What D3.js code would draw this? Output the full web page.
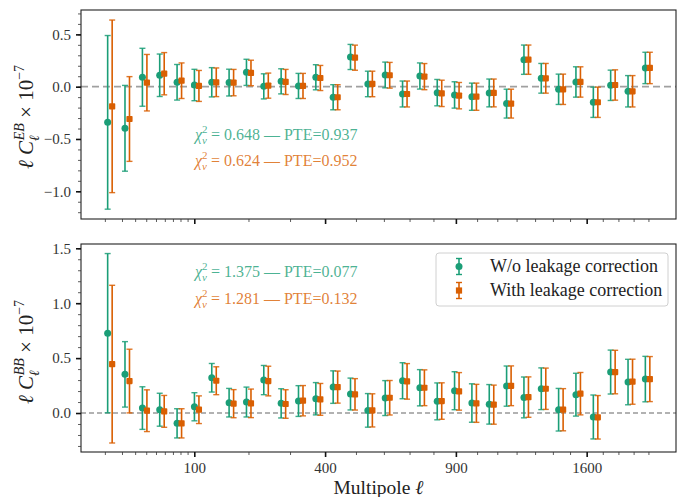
<!DOCTYPE html>
<html><head><meta charset="utf-8">
<script src="https://cdn.jsdelivr.net/npm/d3@7/dist/d3.min.js"></script>
<style>body{margin:0;background:#fff}svg text{font-family:'Liberation Serif','Times New Roman',Times,'DejaVu Serif',serif}</style>
</head><body><svg id="c" width="686" height="497"></svg>
<script>
// Multipole bin centres
const ell = [11.4, 22.1, 36.4, 54.1, 75.4, 100.2, 128.5, 160.3, 195.7, 234.5, 276.9, 322.8, 372.2, 425.1, 481.5, 541.5, 605.0, 672.0, 742.5, 816.5, 894.0, 975.0, 1059.6, 1147.7, 1239.3, 1334.4, 1433.0, 1535.0, 1641.0, 1750.0, 1863.0, 1979.0];
// EB, without leakage correction
const ebNo = [-0.341, -0.398, 0.09, 0.109, 0.042, 0.016, 0.042, 0.039, 0.137, 0.003, 0.051, 0.007, 0.09, -0.101, 0.284, 0.026, 0.112, -0.07, 0.102, -0.057, -0.079, -0.096, -0.06, -0.162, 0.258, 0.08, -0.025, 0.045, -0.149, 0.013, -0.044, 0.179];
const ebNoErr = [0.83, 0.41, 0.277, 0.203, 0.17, 0.15, 0.14, 0.128, 0.125, 0.12, 0.12, 0.12, 0.12, 0.12, 0.12, 0.122, 0.123, 0.124, 0.125, 0.126, 0.126, 0.13, 0.133, 0.138, 0.14, 0.142, 0.145, 0.145, 0.145, 0.145, 0.15, 0.15];
// EB, with leakage correction
const ebCor = [-0.188, -0.309, 0.038, 0.124, 0.057, 0.007, 0.042, 0.039, 0.131, 0.01, 0.045, 0.007, 0.083, -0.101, 0.277, 0.026, 0.109, -0.07, 0.096, -0.064, -0.086, -0.096, -0.06, -0.162, 0.258, 0.08, -0.025, 0.045, -0.149, 0.016, -0.044, 0.179];
const ebCorErr = [0.825, 0.405, 0.27, 0.202, 0.17, 0.148, 0.137, 0.126, 0.122, 0.12, 0.12, 0.12, 0.12, 0.12, 0.12, 0.122, 0.123, 0.124, 0.125, 0.126, 0.126, 0.13, 0.133, 0.138, 0.14, 0.142, 0.145, 0.145, 0.145, 0.145, 0.15, 0.15];
// BB, without leakage correction
const bbNo = [0.727, 0.352, 0.045, 0.03, -0.094, 0.057, 0.321, 0.094, 0.1, 0.3, 0.088, 0.109, 0.13, 0.236, 0.173, 0.024, 0.136, 0.294, 0.23, 0.106, 0.203, 0.091, 0.079, 0.245, 0.142, 0.221, 0.03, 0.167, -0.036, 0.373, 0.282, 0.309];
const bbNoErr = [0.725, 0.298, 0.194, 0.15, 0.133, 0.128, 0.13, 0.13, 0.136, 0.133, 0.133, 0.14, 0.147, 0.148, 0.145, 0.153, 0.159, 0.164, 0.165, 0.168, 0.173, 0.175, 0.18, 0.183, 0.186, 0.19, 0.194, 0.195, 0.2, 0.2, 0.207, 0.207];
// BB, with leakage correction
const bbCor = [0.445, 0.291, 0.021, 0.015, -0.094, 0.03, 0.294, 0.085, 0.088, 0.291, 0.082, 0.112, 0.124, 0.236, 0.17, 0.024, 0.139, 0.288, 0.23, 0.109, 0.197, 0.088, 0.076, 0.248, 0.145, 0.221, 0.03, 0.176, -0.039, 0.373, 0.285, 0.309];
const bbCorErr = [0.718, 0.29, 0.19, 0.145, 0.133, 0.126, 0.127, 0.128, 0.13, 0.135, 0.13, 0.138, 0.145, 0.146, 0.143, 0.151, 0.157, 0.162, 0.163, 0.166, 0.171, 0.173, 0.178, 0.181, 0.184, 0.188, 0.192, 0.193, 0.198, 0.198, 0.205, 0.205];

const xTicks = [100, 400, 900, 1600];
const xMinor = [10,20,30,40,50,60,70,80,90,200,300,500,600,700,800,1000,1100,1200,1300,1400,1500,1700,1800,1900,2000];
const ebTicks = [-1.0, -0.5, 0.0, 0.5];
const bbTicks = [0.0, 0.5, 1.0, 1.5];
const seriesNames = ["W/o leakage correction", "With leakage correction"];
const statsEB = [["0.648", "0.937"], ["0.624", "0.952"]];
const statsBB = [["1.375", "0.077"], ["1.281", "0.132"]];

const GREEN = "#1b9e77", ORANGE = "#d95f02";
const FONT = "'Liberation Serif','Times New Roman',Times,serif";
const svg = d3.select("#c");
const L = 81, R = 676;
const x = d3.scaleSqrt().domain([1.79, 2193]).range([L, R]);
const OFF = 4.5;

function fmt(v){ return (v < 0 ? "\u2212" : "") + Math.abs(v).toFixed(1); }

function panel(top, bot, domain, ticks, minorFrom, minorTo, dataNo, errNo, dataCor, errCor, showXLabels, zeroStyle) {
  const y = d3.scaleLinear().domain(domain).range([bot, top]);
  const g = svg.append("g");
  g.append("line").attr("x1", L).attr("x2", R).attr("y1", y(0)).attr("y2", y(0))
    .attr("stroke", zeroStyle.c).attr("stroke-width", zeroStyle.w).attr("stroke-dasharray", zeroStyle.d);
  const draw = (vals, errs, col, dx, square) => {
    const s = g.append("g");
    vals.forEach((v, i) => {
      const cx = x(ell[i]) + dx;
      const y1 = y(v + errs[i]), y2 = y(v - errs[i]);
      s.append("line").attr("x1", cx).attr("x2", cx).attr("y1", y1).attr("y2", y2).attr("stroke", col).attr("stroke-width", 1.6);
      [y1, y2].forEach(yy => s.append("line").attr("x1", cx - 3).attr("x2", cx + 3).attr("y1", yy).attr("y2", yy).attr("stroke", col).attr("stroke-width", 1.4).attr("stroke-opacity", 0.85));
      if (square) s.append("rect").attr("x", cx - 3.1).attr("y", y(v) - 3.1).attr("width", 6.2).attr("height", 6.2).attr("rx", 0.8).attr("fill", col);
      else s.append("circle").attr("cx", cx).attr("cy", y(v)).attr("r", 3.5).attr("fill", col);
    });
  };
  draw(dataNo, errNo, GREEN, 0, false);
  draw(dataCor, errCor, ORANGE, OFF, true);
  g.append("rect").attr("x", L).attr("y", top).attr("width", R - L).attr("height", bot - top)
    .attr("fill", "none").attr("stroke", "#222").attr("stroke-width", 1.1);
  const minors = d3.range(Math.round(minorFrom * 10), Math.round(minorTo * 10) + 1).map(d => d / 10);
  const ya = g.append("g").attr("transform", `translate(${L},0)`)
    .call(d3.axisLeft(y).tickValues(minors).tickSize(3).tickFormat(""));
  ya.select(".domain").remove();
  ya.selectAll("line").attr("stroke", "#333").attr("stroke-width", 0.8);
  const yb = g.append("g").attr("transform", `translate(${L},0)`)
    .call(d3.axisLeft(y).tickValues(ticks).tickSize(5).tickPadding(5).tickFormat(fmt));
  yb.attr("font-family", FONT);
  yb.select(".domain").remove();
  yb.selectAll("line").attr("stroke", "#111").attr("stroke-width", 1.6);
  yb.selectAll("text").attr("font-size", 15).attr("fill", "#333").style("font-family", FONT);
  const xa = g.append("g").attr("transform", `translate(0,${bot})`)
    .call(d3.axisBottom(x).tickValues(xMinor).tickSize(3).tickFormat(""));
  xa.select(".domain").remove();
  xa.selectAll("line").attr("stroke", "#333").attr("stroke-width", 0.8);
  const xb = g.append("g").attr("transform", `translate(0,${bot})`)
    .call(d3.axisBottom(x).tickValues(xTicks).tickSize(5).tickPadding(5).tickFormat(showXLabels ? d3.format("d") : ""));
  xb.attr("font-family", FONT);
  xb.select(".domain").remove();
  xb.selectAll("line").attr("stroke", "#111").attr("stroke-width", 1.6);
  xb.selectAll("text").attr("font-size", 15).attr("fill", "#333").style("font-family", FONT);
  return {g, y};
}

panel(10, 219, [-1.265, 0.733], ebTicks, -1.2, 0.7, ebNo, ebNoErr, ebCor, ebCorErr, false, {c: "#a0a0a0", w: 1.8, d: "7,4"});
panel(244, 452, [-0.355, 1.539], bbTicks, -0.3, 1.5, bbNo, bbNoErr, bbCor, bbCorErr, true, {c: "#666", w: 1.1, d: "5,3"});

function stat(xp, yp, col, chi, pte) {
  const t = svg.append("text").attr("x", xp).attr("y", yp).attr("fill", col).attr("fill-opacity", 0.8).attr("font-size", 16);
  t.append("tspan").attr("font-style", "italic").text("\u03c7");
  t.append("tspan").attr("font-size", 11).attr("dy", -7).text("2");
  t.append("tspan").attr("font-size", 11).attr("font-style", "italic").attr("dx", -5.5).attr("dy", 11).text("\u03bd");
  t.append("tspan").attr("dy", -4).text(" = " + chi + " \u2014 PTE=" + pte);
}
stat(195, 140, GREEN, statsEB[0][0], statsEB[0][1]);
stat(195, 166, ORANGE, statsEB[1][0], statsEB[1][1]);
stat(195, 277, GREEN, statsBB[0][0], statsBB[0][1]);
stat(195, 304, ORANGE, statsBB[1][0], statsBB[1][1]);

const lg = svg.append("g");
lg.append("rect").attr("x", 436).attr("y", 253).attr("width", 232).attr("height", 53).attr("rx", 3)
  .attr("fill", "#fff").attr("fill-opacity", 0.8).attr("stroke", "#d0d0d0");
[[GREEN, false, 266.5], [ORANGE, true, 290.5]].forEach(([col, sq, yy], i) => {
  const cx = 459;
  lg.append("line").attr("x1", cx).attr("x2", cx).attr("y1", yy - 8).attr("y2", yy + 8).attr("stroke", col).attr("stroke-width", 1.6);
  [yy - 8, yy + 8].forEach(v => lg.append("line").attr("x1", cx - 3).attr("x2", cx + 3).attr("y1", v).attr("y2", v).attr("stroke", col).attr("stroke-width", 1.4));
  if (sq) lg.append("rect").attr("x", cx - 3.1).attr("y", yy - 3.1).attr("width", 6.2).attr("height", 6.2).attr("fill", col);
  else lg.append("circle").attr("cx", cx).attr("cy", yy).attr("r", 3.5).attr("fill", col);
  lg.append("text").attr("x", 490).attr("y", yy + 5.5).attr("font-size", 18).attr("fill", "#222").text(seriesNames[i]);
});

function ylabel(cx, cy, sup) {
  const t = svg.append("text").attr("transform", `translate(${cx},${cy}) rotate(-90)`).attr("text-anchor", "middle")
    .attr("font-size", 21).attr("fill", "#222");
  t.append("tspan").attr("font-style", "italic").text("\u2113 C");
  t.append("tspan").attr("font-size", 14).attr("font-style", "italic").attr("dy", 6).text("\u2113");
  t.append("tspan").attr("font-size", 14).attr("font-style", "italic").attr("dx", -5).attr("dy", -15).text(sup);
  t.append("tspan").attr("dy", 9).text(" \u00d7 10");
  t.append("tspan").attr("font-size", 14).attr("dy", -9).text("\u22127");
}
ylabel(33, 117, "EB");
ylabel(33, 352, "BB");

svg.append("text").attr("x", (L + R) / 2).attr("y", 494).attr("text-anchor", "middle").attr("font-size", 19.5).attr("fill", "#222")
  .html('Multipole <tspan font-style="italic">\u2113</tspan>');
</script></body></html>
